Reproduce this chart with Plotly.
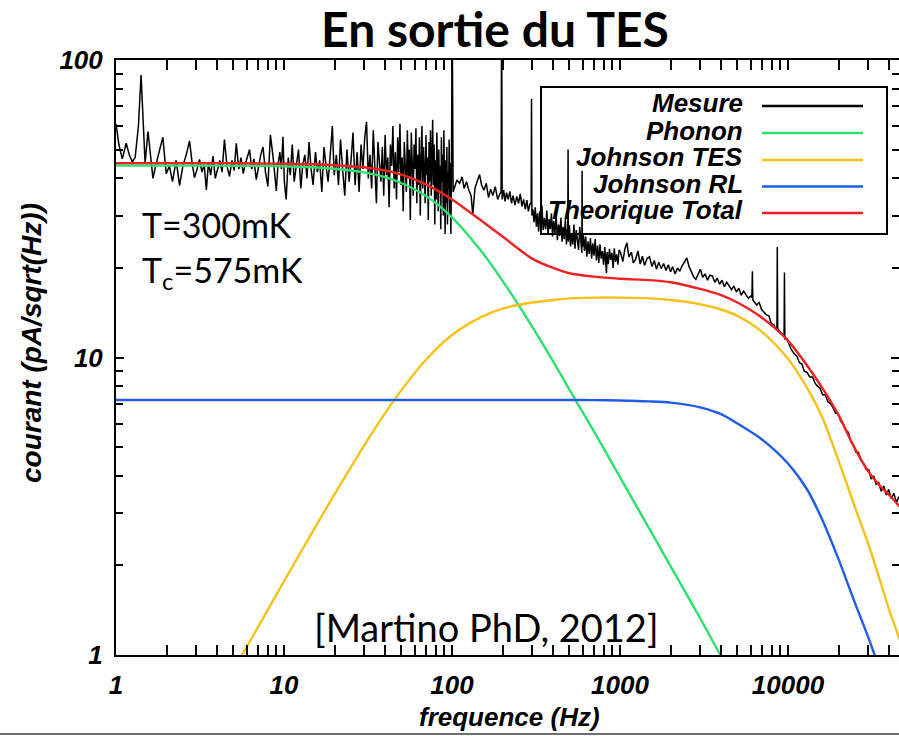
import plotly.graph_objects as go

# ---------------------------------------------------------------------------
# Measured current noise spectrum at the TES output (pA/sqrt(Hz))
# ---------------------------------------------------------------------------
MEAS_F = [
    1.00, 1.04, 1.09, 1.15, 1.20, 1.25, 1.30, 1.36, 1.41, 1.45,
    1.49, 1.55, 1.60, 1.66, 1.72, 1.80, 1.90, 1.99, 2.08, 2.17,
    2.28, 2.39, 2.50, 2.62, 2.74, 2.84, 2.93, 3.04, 3.14, 3.25,
    3.35, 3.45, 3.55, 3.66, 3.78, 3.90, 4.02, 4.15, 4.28, 4.42,
    4.58, 4.74, 4.90, 5.05, 5.20, 5.38, 5.55, 5.72, 5.90, 6.07,
    6.24, 6.42, 6.62, 6.84, 7.05, 7.27, 7.50, 7.76, 8.02, 8.30,
    8.60, 8.80, 9.00, 9.20, 9.45, 9.65, 9.86, 10.05,
    10.3, 10.6, 10.9, 11.2, 11.5, 11.9, 12.2, 12.6, 12.9, 13.3,
    13.7, 14.1, 14.5, 14.9, 15.4, 15.8, 16.3, 16.8, 17.3, 17.8,
    18.3, 18.8, 19.4, 19.9, 20.5, 21.1, 21.7, 22.4, 23.0, 23.7,
    24.4,
    25.00, 25.75, 26.50, 27.25, 28.00, 28.75, 29.50, 30.25, 31.00, 31.75,
    32.50, 33.25, 34.00, 34.75, 35.50, 36.25, 37.00, 37.75, 38.50, 39.25,
    40.00, 40.75, 41.50, 42.25, 43.00, 43.75, 44.50, 45.25, 46.00, 46.75,
    47.50, 48.25, 49.00, 49.75, 50.50, 51.25, 52.00, 52.75, 53.50, 54.25,
    55.00, 55.75, 56.50, 57.25, 58.00, 58.75, 59.50, 60.25, 61.00, 61.75,
    62.50, 63.25, 64.00, 64.75, 65.50, 66.25, 67.00, 67.75, 68.50, 69.25,
    70.00, 70.75, 71.50, 72.25, 73.00, 73.75, 74.50, 75.25, 76.00, 76.75,
    77.50, 78.25, 79.00, 79.75, 80.50, 81.25, 82.00, 82.75, 83.50, 84.25,
    85.00, 85.75, 86.50, 87.25, 88.00, 88.75, 89.50, 90.25, 91.00, 91.75,
    92.50, 93.25, 94.00, 94.75, 95.50, 96.25, 97.00, 97.75, 98.50, 99.25,
    100.2, 101.6,
    103.8, 107, 111, 115, 118, 122, 126, 130, 133, 137,
    141, 146, 150, 155, 160, 165, 170, 175, 181, 187,
    193, 196, 197.5, 199, 203, 207, 211, 216, 221, 226,
    231, 237, 243, 249, 255, 261, 267, 273, 279, 285,
    291, 296, 297.5, 299, 303, 308, 313, 318, 323, 328,
    333, 338, 343, 349, 355, 361, 367, 373, 379, 385,
    391, 397, 403, 410, 417, 424, 431, 438, 445, 452,
    459, 466, 473, 480, 487, 489, 491, 493, 500, 508,
    516, 524, 532, 540, 549, 558, 567, 576, 586, 593,
    595, 597, 605, 615, 625, 635, 645, 656, 667, 678,
    689, 700, 712, 724, 736, 748, 760, 773, 786, 799,
    812, 825, 831, 838, 852, 866, 880, 895, 910, 925,
    940, 956, 972, 988,
    1010, 1040, 1070, 1100, 1130, 1170, 1200, 1240, 1280, 1320,
    1360, 1400, 1450, 1500, 1550, 1600, 1650, 1700, 1760, 1820,
    1880, 1940, 2000, 2060, 2130, 2200, 2270, 2340, 2420, 2500,
    2580, 2660, 2740, 2830, 2920, 3010, 3110, 3210, 3320, 3430,
    3550, 3670, 3790, 3920, 4050, 4180, 4320, 4470, 4620, 4770,
    4930, 5100, 5270, 5450, 5630, 5820, 6020, 6100, 6140, 6180,
    6300, 6520, 6740, 6970, 7200, 7450, 7700, 7960, 8230, 8500,
    8600, 8640, 8690, 9000, 9300, 9480, 9530, 9580, 9800, 10100,
    10500, 10900, 11300, 11700, 12100, 12500, 13000, 13500, 14000, 14500,
    15000, 15500, 16100, 16700, 17300, 17900, 18500, 19200, 19900, 20600,
    21300, 22100, 22900, 23700, 24500, 25400, 26300, 27200, 28200, 29200,
    30200, 31300, 32400, 33500, 34700, 35900, 37200, 38500, 39800, 41200,
    42700, 44200, 45700, 47000,
]
MEAS_V = [
    61, 52, 46.5, 52.5, 48, 45.5, 47, 60, 89, 62,
    45, 57.5, 49, 40, 44, 49, 55, 41.5, 44, 39,
    46, 37.8, 44, 48, 53.5, 45, 40.2, 43, 46.3, 42,
    44.5, 36.6, 45, 41, 47.5, 40, 43, 46, 42, 54,
    44, 40.6, 46, 42.5, 52.5, 43, 47, 41.5, 45, 48,
    50, 43, 46.5, 39.6, 44, 48, 51, 42, 37.6, 56,
    47.5, 41, 36.3, 44, 49, 43, 55.2, 39,
    34, 47, 41, 52, 39, 45, 50, 37, 44, 48,
    40, 53, 43, 38, 49, 42, 46, 36, 51, 44,
    39, 47, 60, 41, 48, 38, 54, 42, 35, 50,
    39,
    45, 57, 38, 49, 36, 52, 43, 55, 62, 40,
    48, 37, 58, 44, 33, 53, 46, 39, 51, 35,
    56, 41, 47, 32, 52, 44, 60, 37, 49, 34,
    55, 42, 61, 38, 47, 31, 53, 44, 36, 58,
    40, 50, 29, 57, 45, 35, 52, 43, 59, 33,
    48, 38, 55, 30, 46, 60, 37, 51, 42, 33,
    56, 41, 47, 29, 53, 39, 58, 35, 45, 63,
    38, 52, 28, 46, 34, 57, 41, 31, 50, 36,
    44, 27, 55, 39, 48, 30, 58, 35, 26, 46,
    33, 51, 28, 42, 37, 54, 30, 45, 26, 40,
    150, 36,
    37.6, 39.5, 38.5, 40.5, 37, 39, 36.5, 35, 30.2, 37,
    39, 41.2, 38, 36.5, 38.5, 34.5, 36.8, 35, 37.5, 34,
    35.5, 36, 150, 34, 36.5, 33.5, 35.8, 34, 36.2, 33,
    35, 32.5, 34.8, 33, 35.5, 32.2, 34, 31.5, 33.8, 31,
    32.8, 33, 74, 30, 31.5, 28.5, 32, 27.5, 30.5, 26.5,
    31, 28, 32.5, 26.8, 29.5, 27, 31.2, 25.8, 29.2, 27,
    30.5, 25.5, 28.8, 26.2, 30, 24.8, 28, 25.6, 29.5, 24.5,
    27.5, 25, 29.3, 24, 27, 25, 50, 24.5, 27.8, 23.6,
    26.2, 24, 28, 23.2, 26.8, 24.6, 23, 27.5, 24, 22.5,
    42.4, 23.5, 26, 22.8, 25.5, 21.8, 24.6, 22.3, 25.2, 21.5,
    24.2, 22, 25, 21.2, 23.8, 20.8, 24, 21.5, 22.8, 20.5,
    23.5, 21, 19.2, 22.6, 20.6, 23.2, 21.3, 22.5, 20, 23.3,
    21, 22.2, 20.5, 23,
    22.5, 21, 23.2, 24.3, 21.8, 22.6, 20.8, 21.4, 22.8, 20.6,
    21.9, 20.4, 21.5, 21.8, 20.2, 21.2, 19.8, 20.9, 19.9, 20.7,
    19.6, 20.5, 19.4, 20.2, 19.1, 20, 19.5, 20.3, 21, 21.6,
    20.2, 19.3, 18.7, 18.3, 19.2, 19.8, 18.6, 19.1, 18.2, 18.9,
    18.8, 17.9, 18.5, 17.6, 18.2, 17.3, 17.9, 17.3, 16.9, 17.4,
    16.6, 17.1, 16.2, 16.7, 16.3, 15.8, 16.1, 15.9, 19.5, 15.6,
    15.4, 15.0, 15.3, 14.5, 14.2, 13.9, 13.8, 13.0, 12.9, 12.4,
    12.7, 23.5, 12.5, 12.2, 11.9, 11.8, 19.3, 11.5, 11.6, 11.2,
    10.6, 10.3, 10.1, 9.6, 9.5, 9.0, 8.9, 8.6, 8.6, 8.2,
    8.0, 7.9, 7.5, 7.5, 7.1, 7.0, 6.8, 6.5, 6.5, 6.1,
    6.0, 5.7, 5.6, 5.2, 5.1, 4.8, 4.8, 4.5, 4.4, 4.2,
    4.2, 3.9, 4.0, 3.75, 3.8, 3.55, 3.7, 3.45, 3.6, 3.35,
    3.5, 3.25, 3.4, 3.3,
]
assert len(MEAS_F) == len(MEAS_V), (len(MEAS_F), len(MEAS_V))

# ---------------------------------------------------------------------------
# Model noise contributions, sampled on a common frequency grid
# ---------------------------------------------------------------------------
MODEL_F = [1, 2, 3, 5, 7, 10, 15, 20, 30, 40, 50, 70, 100, 150, 200, 300, 400,
           500, 700, 1000, 1500, 2000, 3000, 4000, 5000, 7000, 10000, 13000,
           16000, 20000, 25000, 30000, 35000, 40000, 47000]
PHONON = [44.2, 44.2, 44.2, 44.1, 44.1, 43.9, 43.6, 43.1, 41.9, 40.4, 38.6,
          34.9, 29.6, 22.7, 18.1, 12.7, 9.7, 7.8, 5.65, 3.96, 2.65, 1.99, 1.33,
          0.99, 0.80, None, None, None, None, None, None, None, None, None, None]
JOHNSON_TES = [0.18, 0.36, 0.53, 0.89, 1.24, 1.77, 2.63, 3.47, 5.06, 6.5, 7.77,
               9.83, 11.9, 13.7, 14.6, 15.3, 15.6, 15.8, 15.9, 15.9, 15.8, 15.6,
               15.1, 14.5, 13.8, 12.2, 9.9, 7.9, 6.3, 4.5, 3.15, 2.37, 1.81,
               1.42, 1.10]
JOHNSON_RL = [7.2, 7.2, 7.2, 7.2, 7.2, 7.2, 7.2, 7.2, 7.2, 7.2, 7.2, 7.2, 7.2,
              7.2, 7.2, 7.2, 7.2, 7.2, 7.19, 7.17, 7.12, 7.05, 6.8, 6.45, 6.0,
              5.3, 4.4, 3.6, 2.85, 2.1, 1.5, 1.15, 0.9, 0.72, 0.55]
TOTAL = [45.0, 45.0, 45.0, 45.0, 44.9, 44.8, 44.6, 44.3, 43.6, 42.5, 41.2,
         38.2, 34.0, 28.8, 25.5, 21.5, 20.0, 19.2, 18.7, 18.4, 18.2, 17.9,
         17.0, 16.2, 15.3, 13.6, 11.4, 9.4, 7.9, 6.4, 4.95, 4.15, 3.72, 3.45,
         3.12]

SERIES_NAMES = ["Mesure", "Phonon", "Johnson TES", "Johnson RL", "Theorique Total"]
SERIES_COLORS = ["#000000", "#2fe070", "#f7c11a", "#1f5de8", "#ee2222"]

X_TICKS = [1, 10, 100, 1000, 10000]
X_TICK_TEXT = ["1", "10", "100", "1000", "10000"]
X_MINOR = [2, 3, 4, 5, 6, 7, 8, 9, 20, 30, 40, 50, 60, 70, 80, 90,
           200, 300, 400, 500, 600, 700, 800, 900,
           2000, 3000, 4000, 5000, 6000, 7000, 8000, 9000, 20000, 30000, 40000]
Y_TICKS = [1, 10, 100]
Y_TICK_TEXT = ["1", "10", "100"]
Y_MINOR = [2, 3, 4, 5, 6, 7, 8, 9, 20, 30, 40, 50, 60, 70, 80, 90]

# ---------------------------------------------------------------------------
# Page geometry (pixels) and helpers to express overlay items in paper units
# ---------------------------------------------------------------------------
W, H = 899, 736
L, R, T, B = 116, 899, 60, 655


def px(x):
    return (x - L) / (R - L)


def py(y):
    return (B - y) / (B - T)


AXIS_FAMILY = "Liberation Sans, Arial, Helvetica, sans-serif"
TICK_FONT = dict(family=AXIS_FAMILY, size=26, color="black", weight="bold",
                 style="italic")
LEGEND_FONT = dict(family=AXIS_FAMILY, size=26, color="black", weight="bold",
                   style="italic")
XTITLE_FONT = dict(family=AXIS_FAMILY, size=26, color="black", weight="bold",
                   style="italic")
YTITLE_FONT = dict(family=AXIS_FAMILY, size=28, color="black", weight="bold",
                   style="italic")
TEXT_FONT = "Lato, Carlito, Open Sans, sans-serif"

fig = go.Figure()

fig.add_trace(go.Scatter(x=MEAS_F, y=MEAS_V, mode="lines", name=SERIES_NAMES[0],
                         line=dict(color=SERIES_COLORS[0], width=1.5)))
for name, color, values in zip(SERIES_NAMES[1:], SERIES_COLORS[1:],
                               [PHONON, JOHNSON_TES, JOHNSON_RL, TOTAL]):
    fig.add_trace(go.Scatter(x=MODEL_F, y=values, mode="lines", name=name,
                             line=dict(color=color, width=2.4, shape="spline",
                                       smoothing=0.8)))

# Right-hand tick marks carried by an overlaid axis without a line
fig.add_trace(go.Scatter(x=[1], y=[10], yaxis="y2", mode="markers",
                         marker=dict(opacity=0), hoverinfo="skip",
                         showlegend=False))

fig.update_layout(
    width=W, height=H,
    margin=dict(l=L, r=W - R, t=T, b=H - B),
    paper_bgcolor="white", plot_bgcolor="white",
    showlegend=False,
    title=dict(text="<b>En sortie du TES</b>", x=495 / W, xref="container",
               xanchor="center", y=1 - 30 / H, yref="container",
               yanchor="middle",
               font=dict(family=TEXT_FONT, size=48, color="black")),
    xaxis=dict(type="log", range=[0, 4.661], showgrid=False, zeroline=False,
               showline=True, linecolor="black", linewidth=2, mirror="allticks",
               ticks="inside", ticklen=10, tickwidth=1.5, tickcolor="black",
               tickmode="array", tickvals=X_TICKS, ticktext=X_TICK_TEXT,
               tickfont=TICK_FONT, ticklabelstandoff=6,
               minor=dict(tickmode="array", tickvals=X_MINOR, ticks="inside",
                          ticklen=5, tickwidth=1.5, tickcolor="black")),
    yaxis=dict(type="log", range=[0, 2], showgrid=False, zeroline=False,
               showline=True, linecolor="black", linewidth=2, mirror=False,
               ticks="inside", ticklen=8, tickwidth=1.5, tickcolor="black",
               tickmode="array", tickvals=Y_TICKS, ticktext=Y_TICK_TEXT,
               tickfont=TICK_FONT, ticklabelstandoff=6,
               minor=dict(tickmode="array", tickvals=Y_MINOR, ticks="inside",
                          ticklen=7, tickwidth=1.5, tickcolor="black")),
    yaxis2=dict(type="log", range=[0, 2], overlaying="y", side="right",
                anchor="x", showgrid=False, zeroline=False, showline=False,
                ticks="inside", ticklen=8, tickwidth=1.5, tickcolor="black",
                tickmode="array", tickvals=Y_TICKS, showticklabels=False,
                minor=dict(tickmode="array", tickvals=Y_MINOR, ticks="inside",
                           ticklen=7, tickwidth=1.5, tickcolor="black")),
)

# Axis titles
fig.add_annotation(text="<b><i>frequence (Hz)</i></b>", x=px(510), y=py(717),
                   xref="paper", yref="paper", showarrow=False,
                   xanchor="center", yanchor="middle", font=XTITLE_FONT)
fig.add_annotation(text="<b><i>courant (pA/sqrt(Hz))</i></b>", x=px(31),
                   y=py(343), xref="paper", yref="paper", showarrow=False,
                   textangle=-90, xanchor="center", yanchor="middle",
                   font=YTITLE_FONT)

# Legend: labels on the left, line samples on the right, inside a frame
fig.add_shape(type="rect", xref="paper", yref="paper", x0=px(541), x1=px(887),
              y0=py(87), y1=py(234), line=dict(color="black", width=2),
              fillcolor="rgba(0,0,0,0)")
label_rows = [102.5, 129.7, 156, 182.5, 208.8]
line_rows = [106, 133, 160, 186.5, 213]
for name, color, ty, ly in zip(SERIES_NAMES, SERIES_COLORS, label_rows, line_rows):
    fig.add_annotation(text=f"<b><i>{name}</i></b>", x=px(745), y=py(ty + 1),
                       xref="paper", yref="paper", showarrow=False,
                       xanchor="right", yanchor="middle", font=LEGEND_FONT)
    fig.add_shape(type="line", xref="paper", yref="paper", x0=px(762),
                  x1=px(863), y0=py(ly), y1=py(ly),
                  line=dict(color=color, width=2.4))

# Operating conditions and reference
fig.add_annotation(text="T=300mK", x=px(140), y=py(224), xref="paper",
                   yref="paper", showarrow=False, xanchor="left",
                   yanchor="middle",
                   font=dict(family=TEXT_FONT, size=34, color="black"))
fig.add_annotation(text="T<sub>c</sub>=575mK", x=px(140), y=py(272),
                   xref="paper", yref="paper", showarrow=False, xanchor="left",
                   yanchor="middle",
                   font=dict(family=TEXT_FONT, size=34, color="black"))
fig.add_annotation(text="[Martino PhD, 2012]", x=px(486), y=py(627),
                   xref="paper", yref="paper", showarrow=False,
                   xanchor="center", yanchor="middle",
                   font=dict(family=TEXT_FONT, size=38, color="black"))

# Rule across the bottom of the page
fig.add_shape(type="line", xref="paper", yref="paper", x0=px(0), x1=px(W),
              y0=py(734), y1=py(734), line=dict(color="#6e6e6e", width=2))

fig.write_html("out.html")
